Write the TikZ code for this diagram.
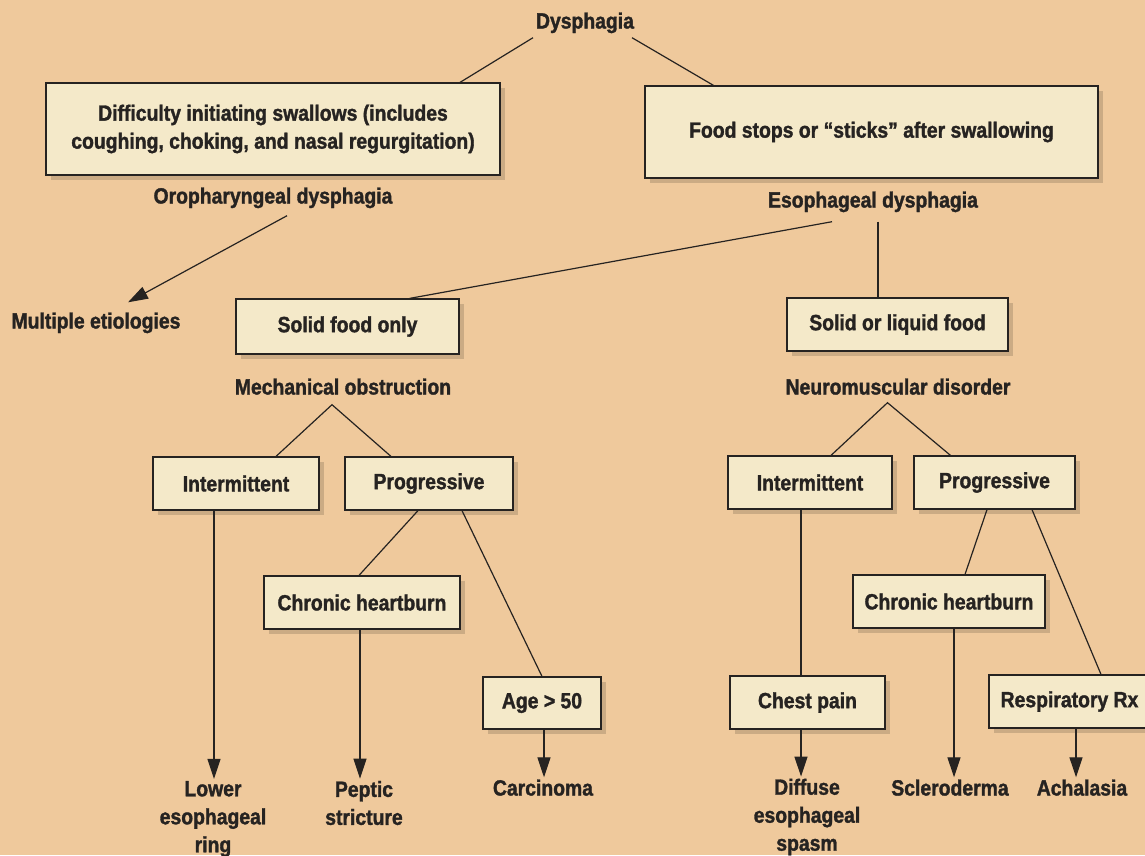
\documentclass[tikz,border=0pt]{standalone}
\usepackage{fontspec}
\setmainfont{Liberation Sans}[FakeStretch=0.88, BoldFeatures={FakeBold=1.5}]
\usetikzlibrary{arrows.meta,calc,shadows}
\definecolor{bg}{HTML}{EFC99C}
\definecolor{boxfill}{HTML}{F4E9C9}
\definecolor{ink}{HTML}{262321}
\begin{document}
\begin{tikzpicture}[x=1pt,y=-1pt,
  txt/.style={font=\fontsize{22}{28}\selectfont\bfseries, text=ink, inner sep=2pt, align=center},
  lbl/.style={txt, text height=16pt, text depth=5pt},
  bx/.style={txt, draw=ink, line width=1.2pt, fill=boxfill,
    drop shadow={shadow xshift=5pt, shadow yshift=-5pt, fill=black, opacity=0.15}},
  ln/.style={draw=ink, line width=1.2pt},
  arr/.style={ln, -{Triangle[length=20pt,width=13pt]}}]
\useasboundingbox (0,0) rectangle (1145,855);
\clip (0,0) rectangle (1145,855);
\fill[bg] (0,0) rectangle (1145,855);

% nodes
\node[lbl] (dys) at (585,23) {Dysphagia};
\node[bx, minimum width=454pt, minimum height=92pt] (b1) at (273,129) {Difficulty initiating swallows (includes\\coughing, choking, and nasal regurgitation)};
\node[bx, minimum width=453pt, minimum height=92pt] (b2) at (871.5,132) {Food stops or “sticks” after swallowing};
\node[lbl] (oro) at (273,198) {Oropharyngeal dysphagia};
\node[lbl] (multi) at (96,323) {Multiple etiologies};
\node[lbl] (eso) at (873,202) {Esophageal dysphagia};
\node[bx, minimum width=223pt, minimum height=55pt] (solid) at (347.5,326.5) {Solid food only};
\node[bx, minimum width=221pt, minimum height=53pt] (liquid) at (897.5,324.5) {Solid or liquid food};
\node[lbl] (mech) at (343,389) {Mechanical obstruction};
\node[lbl] (neuro) at (898,389) {Neuromuscular disorder};
\node[bx, minimum width=166pt, minimum height=53pt] (intL) at (236,483.5) {Intermittent};
\node[bx, minimum width=168pt, minimum height=53pt] (progL) at (429,483.5) {Progressive};
\node[bx, minimum width=164pt, minimum height=53pt] (intR) at (810,482.5) {Intermittent};
\node[bx, minimum width=161pt, minimum height=53pt] (progR) at (994.5,482.5) {Progressive};
\node[bx, minimum width=196pt, minimum height=53pt] (chL) at (362,602.5) {Chronic heartburn};
\node[bx, minimum width=118pt, minimum height=52pt] (age) at (542,703) {Age > 50};
\node[bx, minimum width=192pt, minimum height=53pt] (chR) at (949,601.5) {Chronic heartburn};
\node[bx, minimum width=155pt, minimum height=53pt] (chest) at (807.5,702.5) {Chest pain};
\node[bx, minimum width=161pt, minimum height=53pt] (resp) at (1069.5,701.5) {Respiratory Rx};
\node[txt] (lower) at (213,819) {Lower\\esophageal\\ring};
\node[txt] (peptic) at (364,803) {Peptic\\stricture};
\node[lbl] (carc) at (543,790) {Carcinoma};
\node[txt] (diffuse) at (807,817) {Diffuse\\esophageal\\spasm};
\node[lbl] (sclero) at (950,790) {Scleroderma};
\node[lbl] (achal) at (1082,790) {Achalasia};

% connectors
\draw[ln] ($(dys.south)+(-52,2)$) -- ($(b1.north)+(187,0)$);
\draw[ln] ($(dys.south)+(47,2)$) -- ($(b2.north)+(-158,0)$);
\draw[arr] ($(oro.south)+(14,5)$) -- ($(multi.north)+(32,-8)$);
\draw[ln] ($(eso.south)+(-41,7)$) -- ($(solid.north)+(62,0)$);
\draw[ln] ($(eso.south)+(5,7)$) -- ($(liquid.north)+(-19.5,0)$);
\draw[ln] ($(intL.north)+(40,0)$) -- ($(mech.south)+(-11,3)$) -- ($(progL.north)+(-38,0)$);
\draw[ln] ($(intR.north)+(21,0)$) -- ($(neuro.south)+(-10.5,1)$) -- ($(progR.north)+(-44,0)$);
\draw[ln] ($(progL.south)+(-11,0)$) -- ($(chL.north)+(-3,0)$);
\draw[ln] ($(progL.south)+(33,0)$) -- (age.north);
\draw[ln] ($(progR.south)+(-7.5,0)$) -- ($(chR.north)+(16,0)$);
\draw[ln] ($(progR.south)+(37.5,0)$) -- ($(resp.north)+(31.5,0)$);
\draw[ln] ($(intR.south)+(-9,0)$) -- ($(chest.north)+(-6.5,0)$);
\draw[arr] ($(intL.south)+(-22,0)$) -- ($(intL.south |- lower.north)+(-22,0)$);
\draw[arr] ($(chL.south)+(-2,0)$) -- ($(chL.south |- peptic.north)+(-2,0)$);
\draw[arr] ($(age.south)+(2,0)$) -- ($(age.south |- carc.north)+(2,0)$);
\draw[arr] ($(chest.south)+(-6.5,0)$) -- ($(chest.south |- diffuse.north)+(-6.5,0)$);
\draw[arr] ($(chR.south)+(5,0)$) -- ($(chR.south |- sclero.north)+(5,0)$);
\draw[arr] ($(resp.south)+(6.5,0)$) -- ($(resp.south |- achal.north)+(6.5,0)$);
\end{tikzpicture}
\end{document}
